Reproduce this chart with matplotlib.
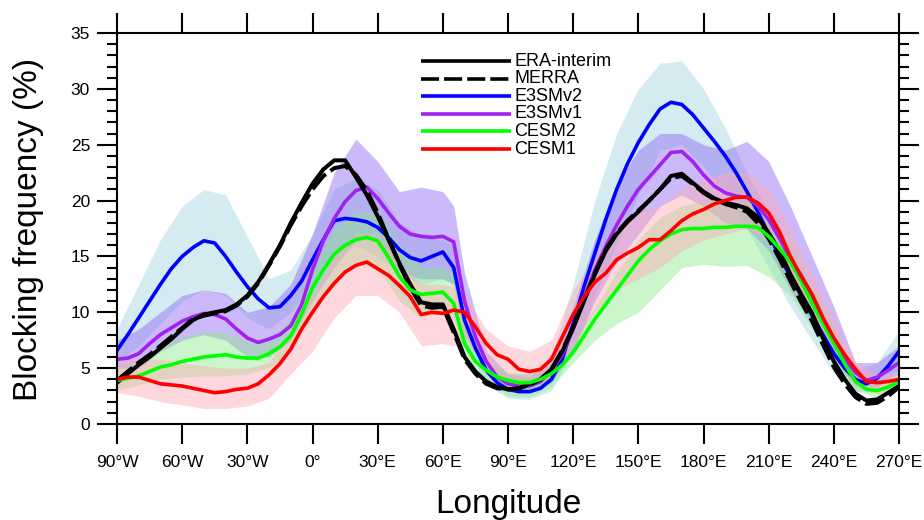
import numpy as np
import matplotlib
matplotlib.use("Agg")
import matplotlib.pyplot as plt
from matplotlib.ticker import MultipleLocator, FixedLocator

plt.rcParams['font.family'] = ['Liberation Sans', 'DejaVu Sans']

# line data, 5 degree steps from 90W to 270E
LON = np.arange(-90, 271, 5)

ERA = [3.7, 4.5, 5.3, 6.0, 6.8, 7.6, 8.5, 9.3, 9.8, 10.0, 10.2, 10.7, 11.5, 12.7, 14.3,
       16.0, 18.0, 19.8, 21.5, 22.8, 23.6, 23.6, 22.1, 20.5, 18.6, 16.5, 14.4, 12.5, 10.9,
       10.7, 10.7, 8.5, 6.0, 4.7, 3.8, 3.3, 3.1, 3.2, 3.6, 4.0, 4.9, 6.5, 8.6, 11.0, 13.4,
       15.5, 17.0, 18.1, 19.0, 20.0, 21.0, 22.2, 22.4, 21.6, 20.8, 20.2, 19.8, 19.6, 19.3,
       18.5, 17.1, 15.5, 13.4, 11.6, 9.9, 7.7, 5.6, 4.0, 2.7, 2.1, 2.2, 2.8, 3.4]
MERRA = [3.9, 4.7, 5.5, 6.2, 7.0, 7.8, 8.6, 9.4, 9.7, 9.9, 10.1, 10.6, 11.4, 12.6, 14.2,
         15.9, 17.8, 19.5, 21.0, 22.2, 22.9, 23.1, 22.3, 20.9, 18.9, 16.6, 14.3, 12.2, 10.6,
         10.4, 10.5, 8.2, 5.8, 4.5, 3.6, 3.2, 3.1, 3.2, 3.5, 4.0, 4.9, 6.6, 8.7, 11.1, 13.5,
         15.6, 17.1, 18.2, 19.1, 20.0, 21.0, 22.0, 22.2, 21.5, 20.7, 20.1, 19.7, 19.4, 19.0,
         18.0, 16.6, 14.8, 12.8, 10.9, 9.2, 7.1, 5.1, 3.6, 2.4, 1.8, 1.9, 2.5, 3.3]
E3SMV2 = [6.6, 8.0, 9.5, 11.0, 12.5, 13.9, 15.0, 15.8, 16.4, 16.2, 15.0, 13.6, 12.3, 11.2,
          10.4, 10.5, 11.5, 12.8, 14.7, 16.5, 18.2, 18.4, 18.3, 18.1, 17.6, 16.7, 15.6, 14.9,
          14.6, 15.0, 15.4, 14.0, 9.3, 6.8, 4.8, 3.7, 3.1, 2.9, 2.9, 3.2, 4.0, 5.8, 9.0, 12.3,
          15.3, 18.3, 21.0, 23.3, 25.2, 26.8, 28.2, 28.8, 28.6, 27.7, 26.5, 25.3, 24.0, 22.5,
          20.8, 19.0, 17.0, 15.0, 13.2, 11.5, 9.7, 8.0, 6.3, 5.0, 4.0, 3.6, 4.1, 5.2, 6.5]
E3SMV1 = [5.8, 5.9, 6.3, 7.2, 8.0, 8.6, 9.2, 9.6, 9.9, 9.8, 9.4, 8.5, 7.7, 7.3, 7.6, 8.0,
          8.8, 10.7, 13.8, 16.4, 18.4, 19.9, 20.9, 21.2, 20.2, 18.9, 17.7, 17.0, 16.8, 16.7,
          16.8, 16.3, 11.0, 7.8, 5.6, 4.2, 3.6, 3.4, 3.4, 3.8, 4.8, 6.2, 8.5, 11.2, 13.8, 15.9,
          17.8, 19.5, 21.0, 22.1, 23.2, 24.3, 24.4, 23.5, 22.3, 21.3, 20.7, 20.4, 20.3, 19.5,
          18.3, 16.6, 14.8, 13.3, 11.5, 9.2, 7.3, 5.8, 4.6, 3.9, 4.2, 4.8, 5.5]
CESM2 = [3.9, 4.1, 4.3, 4.7, 5.1, 5.3, 5.6, 5.8, 6.0, 6.1, 6.2, 6.0, 5.9, 5.9, 6.3, 6.9,
         7.9, 9.8, 12.2, 13.8, 15.2, 16.0, 16.5, 16.7, 16.4, 14.9, 13.2, 12.0, 11.6, 11.7,
         11.8, 10.8, 7.2, 5.6, 4.8, 4.2, 3.9, 3.7, 3.7, 4.0, 4.5, 5.3, 6.4, 7.9, 9.4, 10.7,
         12.0, 13.3, 14.6, 15.6, 16.4, 17.0, 17.4, 17.5, 17.5, 17.6, 17.6, 17.7, 17.7, 17.6,
         16.8, 15.7, 14.5, 12.8, 10.8, 9.0, 7.2, 5.4, 3.8, 3.1, 3.0, 3.3, 3.8]
CESM1 = [4.0, 4.2, 4.2, 3.9, 3.6, 3.5, 3.4, 3.2, 3.0, 2.8, 2.9, 3.1, 3.2, 3.6, 4.4, 5.4,
         6.7, 8.5, 10.0, 11.4, 12.6, 13.6, 14.2, 14.5, 13.9, 13.3, 12.4, 11.4, 9.8, 10.0,
         9.9, 10.2, 10.0, 8.7, 7.2, 6.2, 5.8, 4.9, 4.7, 4.9, 5.8, 7.8, 9.8, 11.4, 12.7, 13.5,
         14.7, 15.3, 15.8, 16.5, 16.5, 17.3, 18.2, 18.8, 19.2, 19.7, 20.0, 20.3, 20.3, 19.8,
         18.9, 17.2, 15.0, 13.2, 11.6, 9.5, 7.7, 6.2, 4.9, 3.8, 3.7, 3.8, 4.0]

# ensemble spread (shading)
BAND_LON = [-90, -80, -70, -60, -50, -40, -30, -20, -10, 0, 10, 20, 30, 40, 50, 60, 65, 70,
            80, 90, 100, 110, 120, 130, 140, 150, 160, 170, 180, 190, 200, 210, 220, 230,
            240, 250, 260, 270]
E3SMV2_HI = [8.5, 12.5, 16.5, 19.5, 21.0, 20.5, 16.8, 13.0, 13.8, 17.0, 21.0, 22.0, 21.0,
             18.0, 16.8, 16.5, 16.0, 10.5, 5.5, 4.5, 4.5, 6.0, 12.5, 20.0, 26.0, 30.0, 32.3,
             32.5, 30.0, 26.5, 22.5, 19.0, 15.0, 11.0, 7.0, 4.8, 5.5, 8.3]
E3SMV2_LO = [5.5, 7.0, 9.0, 11.0, 12.0, 11.5, 9.5, 8.5, 10.0, 12.5, 15.5, 16.0, 15.0, 13.5,
             12.5, 13.0, 12.5, 7.5, 3.5, 2.3, 2.2, 3.0, 6.5, 11.5, 16.0, 20.5, 24.5, 25.0,
             23.0, 20.5, 17.5, 14.0, 10.5, 7.5, 4.5, 2.8, 3.3, 5.0]
E3SMV1_HI = [7.5, 8.5, 10.0, 11.5, 12.0, 11.7, 10.0, 10.5, 12.5, 17.0, 22.5, 25.5, 23.5,
             20.8, 21.2, 20.8, 19.5, 13.5, 6.5, 4.5, 4.2, 6.0, 10.5, 16.5, 21.5, 24.5, 26.0,
             26.0, 25.0, 24.5, 25.3, 23.5, 19.5, 15.0, 10.5, 5.5, 5.5, 7.0]
E3SMV1_LO = [5.0, 5.0, 6.5, 7.5, 8.0, 7.5, 6.0, 6.0, 7.5, 11.0, 14.0, 16.5, 16.5, 13.5,
             13.0, 13.0, 12.5, 8.0, 4.5, 3.0, 2.8, 3.7, 6.5, 11.0, 14.5, 17.0, 19.5, 20.5,
             19.5, 18.0, 17.5, 15.5, 12.0, 9.0, 5.5, 3.5, 3.3, 4.5]
CESM2_HI = [5.0, 5.5, 7.0, 7.8, 8.3, 8.2, 7.3, 7.5, 9.5, 14.0, 17.5, 19.0, 19.0, 16.0, 14.0,
            14.0, 13.5, 9.0, 5.8, 4.6, 4.5, 5.5, 7.5, 10.5, 13.5, 16.5, 18.5, 19.5, 20.0,
            20.0, 20.0, 18.5, 16.0, 12.5, 8.5, 4.5, 3.5, 4.3]
CESM2_LO = [3.0, 3.5, 4.0, 4.2, 4.3, 4.3, 4.5, 5.0, 6.5, 10.0, 13.0, 14.5, 14.0, 11.0, 9.5,
            10.0, 9.5, 6.0, 3.8, 2.5, 2.4, 3.3, 5.5, 7.5, 9.0, 10.0, 12.0, 14.0, 14.3, 14.1,
            14.2, 13.2, 11.5, 8.5, 5.5, 3.0, 2.3, 3.0]
CESM1_HI = [5.5, 5.8, 5.8, 5.5, 5.2, 5.0, 5.0, 5.5, 8.5, 11.5, 15.0, 17.0, 17.0, 14.5, 12.5,
            12.5, 12.3, 11.5, 8.5, 7.0, 6.5, 7.5, 12.0, 15.0, 18.0, 19.0, 19.5, 21.0, 22.0,
            22.5, 22.5, 21.0, 17.5, 13.5, 9.5, 5.5, 4.5, 4.5]
CESM1_LO = [2.8, 2.5, 2.0, 1.7, 1.4, 1.4, 1.6, 2.3, 4.5, 6.5, 9.5, 11.5, 11.5, 10.0, 7.0,
            7.2, 7.0, 7.5, 5.0, 3.8, 3.5, 4.0, 7.0, 10.0, 12.0, 13.0, 14.0, 15.5, 16.5, 17.0,
            17.5, 16.5, 12.5, 9.5, 6.0, 3.2, 2.7, 3.0]

XTICKS = np.arange(-90, 271, 30)
XTICK_LABELS = ["90°W", "60°W", "30°W", "0°", "30°E", "60°E", "90°E", "120°E", "150°E",
                "180°E", "210°E", "240°E", "270°E"]

fig = plt.figure(figsize=(9.24, 5.2), dpi=100)
ax = fig.add_axes([117 / 924, 96 / 520, 782 / 924, 391 / 520])

# shading
bands = [
    (E3SMV2_LO, E3SMV2_HI, (173 / 255, 216 / 255, 230 / 255), 0.5),
    (E3SMV1_LO, E3SMV1_HI, (140 / 255, 100 / 255, 245 / 255), 0.45),
    (CESM2_LO, CESM2_HI, (140 / 255, 235 / 255, 140 / 255), 0.45),
    (CESM1_LO, CESM1_HI, (255 / 255, 170 / 255, 180 / 255), 0.45),
]
for lo, hi, col, a in bands:
    ax.fill_between(BAND_LON, lo, hi, color=col, alpha=a, lw=0)

lw = 2.6
dash = (0, (5, 1.4))
ax.plot(LON, E3SMV2, color=(0, 0, 1), lw=lw)
ax.plot(LON, E3SMV1, color=(0.63, 0.13, 0.94), lw=lw)
ax.plot(LON, ERA, color='k', lw=lw + 0.3)
ax.plot(LON, MERRA, color='k', lw=lw + 0.3, ls=dash)
ax.plot(LON, CESM2, color=(0, 1, 0), lw=lw)
ax.plot(LON, CESM1, color=(1, 0, 0), lw=lw)

ax.set_xlim(-90, 270)
ax.set_ylim(0, 35)

ax.xaxis.set_major_locator(FixedLocator(XTICKS))
ax.set_xticklabels(XTICK_LABELS)
ax.yaxis.set_major_locator(MultipleLocator(5))
ax.yaxis.set_minor_locator(MultipleLocator(1))
ax.tick_params(axis='x', which='major', direction='out', length=14.4, width=1.5,
               top=True, bottom=True, labeltop=False, labelsize=12.5, pad=8)
ax.tick_params(axis='y', which='major', direction='out', length=14.4, width=1.5,
               left=True, right=True, labelright=False, labelsize=12.5, pad=5)
ax.tick_params(axis='y', which='minor', direction='out', length=7.2, width=1.5,
               left=True, right=True)
for s in ax.spines.values():
    s.set_linewidth(1.5)

fig.text(508 / 924, 7 / 520, "Longitude", ha='center', va='baseline', fontsize=24)
fig.text(29 / 924, 1 - 229 / 520, "Blocking frequency (%)", rotation=90,
         ha='center', va='center', fontsize=24)

# legend drawn by hand to match the reference layout
leg = [("ERA-interim", 'k', '-'), ("MERRA", 'k', dash),
       ("E3SMv2", (0, 0, 1), '-'), ("E3SMv1", (0.63, 0.13, 0.94), '-'),
       ("CESM2", (0, 1, 0), '-'), ("CESM1", (1, 0, 0), '-')]
x0, x1, xt = (421 - 117) / 782, (511 - 117) / 782, (514 - 117) / 782
for i, (name, col, ls) in enumerate(leg):
    y = (424 - (61 + 17.6 * i)) / 391
    ax.plot([x0, x1], [y, y], transform=ax.transAxes, color=col, ls=ls, lw=lw,
            solid_capstyle='butt', dash_capstyle='butt')
    ax.text(xt, y, name, transform=ax.transAxes, fontsize=13, va='center', ha='left')

fig.savefig("out.png", dpi=100)
